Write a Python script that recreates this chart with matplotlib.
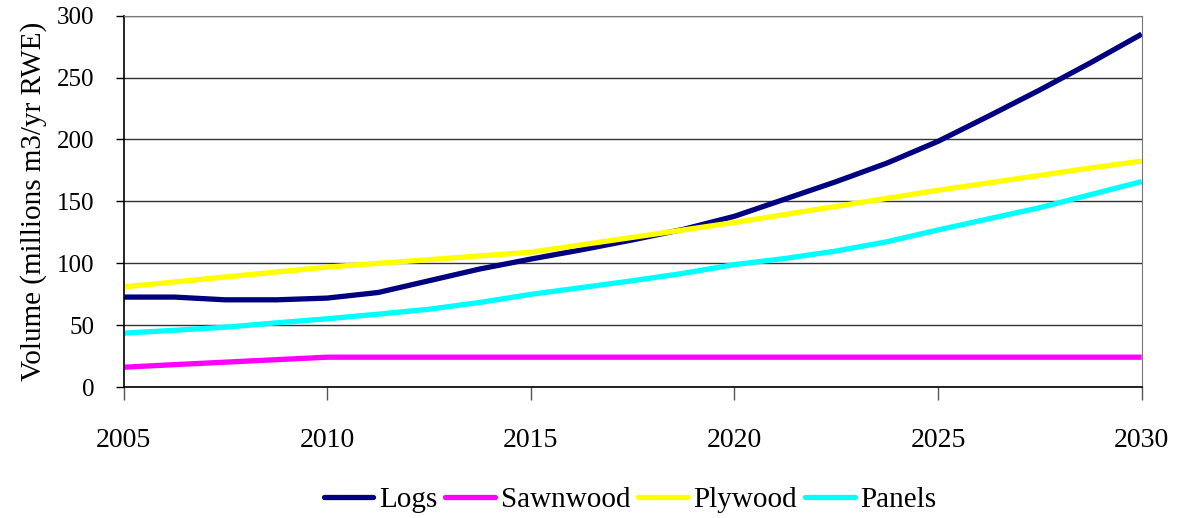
import matplotlib
matplotlib.use("Agg")
import matplotlib.pyplot as plt
import numpy as np

years = [2005, 2006.25, 2007.5, 2008.75, 2010, 2011.25, 2012.5, 2013.75, 2015,
         2016.25, 2017.5, 2018.75, 2020, 2021.25, 2022.5, 2023.75, 2025,
         2026.25, 2027.5, 2028.75, 2030]
logs = [72.8, 72.8, 70.6, 70.6, 72, 76.5, 86, 95.5, 103.5, 111, 119, 127.5,
        138, 152, 166, 181, 198.5, 219, 240, 262, 285]
sawnwood = [16.2, 18.3, 20.3, 22.3, 24.3, 24.3, 24.3, 24.3, 24.3, 24.3, 24.3,
            24.3, 24.3, 24.3, 24.3, 24.3, 24.3, 24.3, 24.3, 24.3, 24.3]
plywood = [81, 85, 89, 93, 97, 100, 103, 106, 109, 115, 121, 127, 133, 139.5,
           146, 152.5, 159, 165, 171, 177, 182.5]
panels = [43.7, 46, 48.5, 52, 55.3, 59, 63, 68.5, 75, 80.5, 86, 92, 99, 104,
          110, 117.5, 127, 136, 145, 155.5, 166]

series_names = ["Logs", "Sawnwood", "Plywood", "Panels"]
series_values = [logs, sawnwood, plywood, panels]
series_colors = ["#000080", "#FF00FF", "#FFFF00", "#00FFFF"]

x_ticks = [2005, 2010, 2015, 2020, 2025, 2030]
y_ticks = [0, 50, 100, 150, 200, 250, 300]
y_label = "Volume (millions m3/yr RWE)"

plt.rcParams['font.family'] = ['Liberation Serif', 'DejaVu Serif']

fig = plt.figure(figsize=(11.77, 5.18), dpi=100)
ax = fig.add_axes([0.105, 0.2523, 0.865, 0.7177])

for name, vals, col in zip(series_names, series_values, series_colors):
    ax.plot(years, vals, color=col, lw=3.8, label=name, solid_capstyle='butt',
            solid_joinstyle='round')

ax.set_xlim(2005, 2030)
ax.set_ylim(0, 300)
ax.set_xticks(x_ticks)
ax.set_yticks(y_ticks)
ax.yaxis.grid(True, color="#333333", lw=1.0)
ax.set_axisbelow(True)

ax.tick_params(axis='x', labelsize=20, colors='black', length=9, width=1,
               color='#555555', pad=20)
ax.tick_params(axis='y', labelsize=18, colors='black', length=6, width=1,
               color='black', pad=15)

ax.spines['left'].set_color('black')
ax.spines['bottom'].set_color('black')
ax.spines['left'].set_linewidth(1.2)
ax.spines['bottom'].set_linewidth(1.2)
ax.spines['top'].set_color('#777777')
ax.spines['right'].set_color('#777777')

ax.set_ylabel(y_label, fontsize=21)
ax.yaxis.set_label_coords(-0.075, 0.5)

leg = fig.legend(loc='center', bbox_to_anchor=(0.5355, 0.035), ncol=4,
                 frameon=False, fontsize=21, handlelength=1.7,
                 handletextpad=0.2, columnspacing=0.27)
for h in leg.get_lines():
    h.set_solid_capstyle('round')
    h.set_linewidth(3.8)

fig.savefig("out.png", dpi=100)
